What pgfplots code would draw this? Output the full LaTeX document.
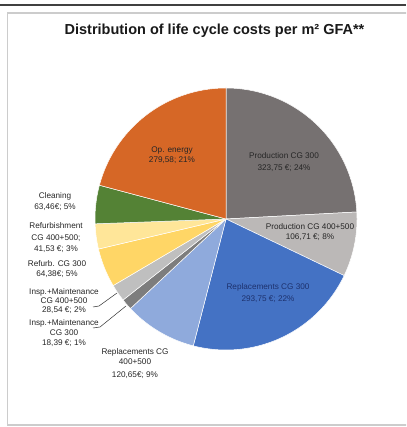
\documentclass[border=0pt]{standalone}
\usepackage{fontspec}
\setmainfont{Liberation Sans}
\usepackage{pgfplots}
\pgfplotsset{compat=1.18}
\usepackage{pgfplotstable}

\definecolor{cProdA}{RGB}{118,113,113}
\definecolor{cProdB}{RGB}{187,184,183}
\definecolor{cRepA}{RGB}{68,114,196}
\definecolor{cRepB}{RGB}{143,170,220}
\definecolor{cInsA}{RGB}{125,125,125}
\definecolor{cInsB}{RGB}{191,191,191}
\definecolor{cRefA}{RGB}{255,214,102}
\definecolor{cRefB}{RGB}{255,230,153}
\definecolor{cClean}{RGB}{84,130,53}
\definecolor{cEnergy}{RGB}{214,103,38}
\definecolor{cNavy}{RGB}{30,50,110}

% costs per m2 GFA, clockwise from 12 o'clock
\pgfplotstableread{
cost
323.75
106.71
293.75
120.65
18.39
28.54
64.38
41.53
63.46
279.58
}\costs

\newcommand\pieslice[3]{%
  \edef\tmp{\noexpand\addplot[fill=#3,draw=white,line width=0.5pt,
    domain=\csname ang#2\endcsname:\csname ang#1\endcsname,samples=60,variable=\noexpand\t]
    ({226+131*cos(\noexpand\t)},{208+131*sin(\noexpand\t)}) -- (axis cs:226,208) -- cycle;}%
  \tmp}

\begin{document}
\begin{tikzpicture}
\def\tot{0}
\pgfplotsforeachungrouped \i in {0,...,9}{%
  \pgfplotstablegetelem{\i}{cost}\of\costs
  \pgfmathsetmacro\tot{\tot+\pgfplotsretval}%
}
\expandafter\xdef\csname ang0\endcsname{90}
\def\cum{0}
\pgfplotsforeachungrouped \i in {0,...,9}{%
  \pgfplotstablegetelem{\i}{cost}\of\costs
  \pgfmathsetmacro\cum{\cum+\pgfplotsretval}%
  \pgfmathtruncatemacro\j{\i+1}%
  \pgfmathsetmacro\a{90-(\cum/\tot)*360}%
  \expandafter\xdef\csname ang\j\endcsname{\a}%
}
\begin{axis}[
  scale only axis, width=406pt, height=427pt,
  xmin=0, xmax=406, ymin=0, ymax=427,
  axis lines=none, clip=true,
  at={(0,0)}, anchor=south west,
]
% frame
\draw[black!75, line width=1.6pt] (axis cs:0,422) -- (axis cs:406,422);
\draw[black!20, line width=1.5pt] (axis cs:7.5,2) rectangle (axis cs:420,414);
\node[font=\fontsize{14.5}{17}\selectfont\bfseries, text=black!90] at (axis cs:214.5,396)
  {Distribution of life cycle costs per m² GFA**};
% pie
\pieslice{0}{1}{cProdA}
\pieslice{1}{2}{cProdB}
\pieslice{2}{3}{cRepA}
\pieslice{3}{4}{cRepB}
\pieslice{4}{5}{cInsA}
\pieslice{5}{6}{cInsB}
\pieslice{6}{7}{cRefA}
\pieslice{7}{8}{cRefB}
\pieslice{8}{9}{cClean}
\pieslice{9}{10}{cEnergy}
% labels
\tikzset{lbl/.style={align=center, font=\fontsize{8.2}{10}\selectfont, text=black!85, inner sep=0pt}}
\node[lbl] at (axis cs:172,272) {Op. energy\\279,58; 21\%};
\node[lbl, font=\fontsize{8.2}{12}\selectfont] at (axis cs:284,265) {Production CG 300\\323,75 €; 24\%};
\node[lbl] at (axis cs:310,195) {Production CG 400+500\\106,71 €; 8\%};
\node[lbl, text=cNavy, font=\fontsize{8.2}{12}\selectfont] at (axis cs:268,134) {Replacements CG 300\\293,75 €; 22\%};
\node[lbl] at (axis cs:135,63) {Replacements CG\\400+500\\[3pt]120,65€; 9\%};
\node[lbl, font=\fontsize{8.2}{11}\selectfont] at (axis cs:55,225) {Cleaning\\63,46€; 5\%};
\node[lbl, font=\fontsize{8.2}{11.5}\selectfont] at (axis cs:56,189) {Refurbishment\\CG 400+500;\\41,53 €; 3\%};
\node[lbl] at (axis cs:57,158) {Refurb. CG 300\\64,38€; 5\%};
\node[lbl, font=\fontsize{8.2}{9.3}\selectfont] at (axis cs:64,126) {Insp.+Maintenance\\CG 400+500\\28,54 €; 2\%};
\node[lbl] at (axis cs:64,94) {Insp.+Maintenance\\CG 300\\18,39 €; 1\%};
\draw[black!80, line width=0.5pt] (axis cs:93,120) -- (axis cs:99,121) -- (axis cs:117,134);
\draw[black!80, line width=0.5pt] (axis cs:93,99) -- (axis cs:100,100) -- (axis cs:126,121);
\end{axis}
\pgfresetboundingbox
\path (0,0) rectangle (406pt,427pt);
\end{tikzpicture}
\end{document}
